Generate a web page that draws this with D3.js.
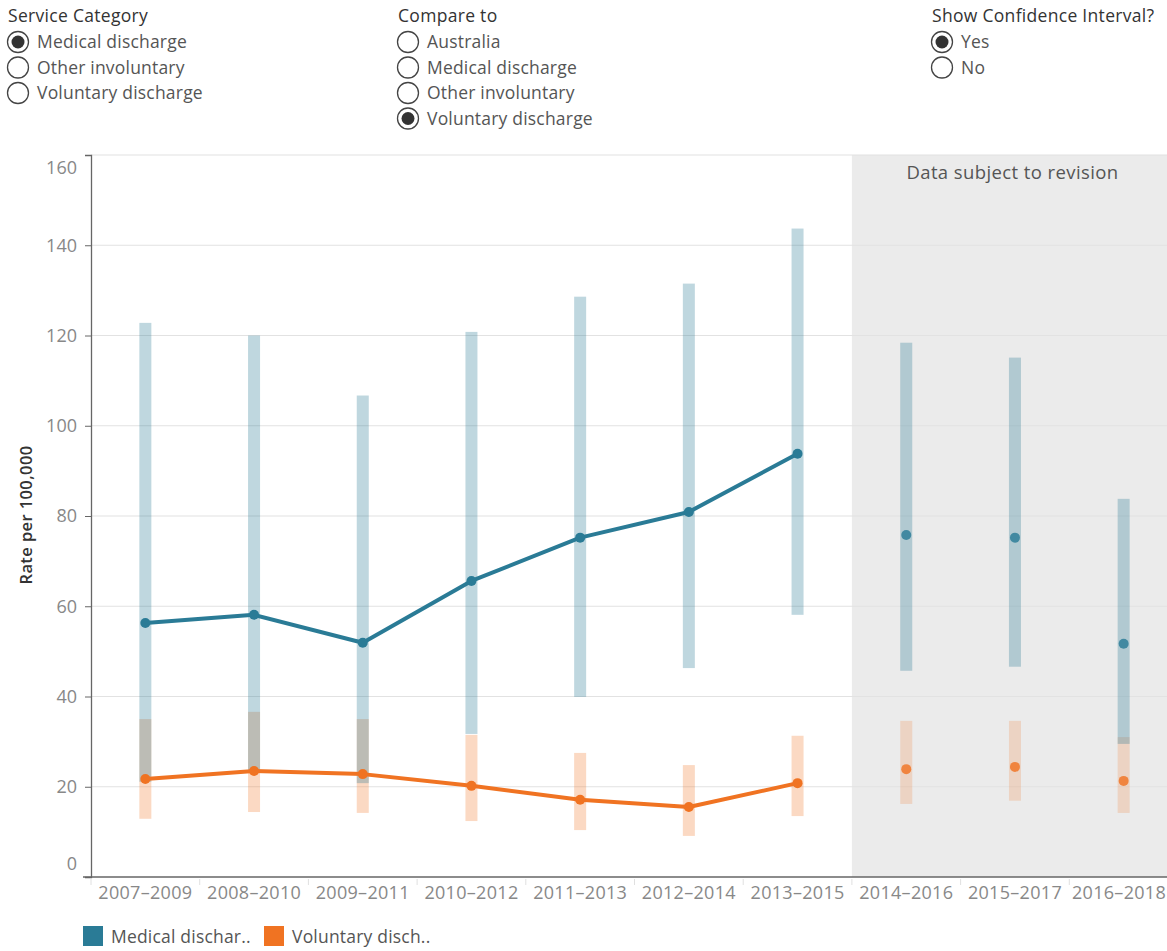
<!DOCTYPE html>
<html>
<head>
<meta charset="utf-8">
<script src="https://cdn.jsdelivr.net/npm/d3@7"></script>
<style>
  body { margin: 0; background: #fff; font-family: "Open Sans", "Noto Sans", sans-serif; }
  svg { display: block; }
</style>
</head>
<body>
<div id="chart"></div>
<script>
// Periods on the x axis
var periods = ["2007–2009", "2008–2010", "2009–2011", "2010–2012", "2011–2013",
               "2012–2014", "2013–2015", "2014–2016", "2015–2017", "2016–2018"];
// First period that is "subject to revision"
var revisionStart = "2014–2016";

// Medical discharge rate and confidence interval
var medicalRate  = [56.3, 58.1, 51.9, 65.6, 75.2, 80.9, 93.8, 75.8, 75.2, 51.7];
var medicalLow   = [21.1, 23.7, 20.8, 31.7, 39.9, 46.3, 58.1, 45.7, 46.6, 29.5];
var medicalHigh  = [122.8, 120.0, 106.7, 120.8, 128.6, 131.5, 143.7, 118.4, 115.1, 83.8];

// Voluntary discharge rate and confidence interval
var voluntaryRate = [21.7, 23.5, 22.8, 20.2, 17.1, 15.5, 20.8, 23.9, 24.4, 21.3];
var voluntaryLow  = [12.9, 14.4, 14.2, 12.4, 10.4, 9.1, 13.5, 16.2, 16.9, 14.2];
var voluntaryHigh = [35.0, 36.6, 35.0, 31.5, 27.5, 24.8, 31.3, 34.6, 34.6, 31.0];

var yTicks = [0, 20, 40, 60, 80, 100, 120, 140, 160];

// Filter controls shown above the chart
var serviceOptions = ["Medical discharge", "Other involuntary", "Voluntary discharge"];
var compareOptions = ["Australia", "Medical discharge", "Other involuntary", "Voluntary discharge"];
var ciOptions = ["Yes", "No"];

var W = 1167, H = 951;
var plot = {left: 91, top: 155, bottom: 877, right: 1178};

var svg = d3.select("#chart").append("svg")
    .attr("width", W).attr("height", H);

// ---- controls ----
function radioGroup(x, title, options, selected) {
  var g = svg.append("g").attr("transform", "translate(" + x + ",0)");
  g.append("text").attr("x", 1).attr("y", 22)
    .attr("font-size", 17.5).attr("letter-spacing", 0.3).attr("fill", "#333").text(title);
  var row = g.selectAll("g.opt").data(options).enter().append("g")
    .attr("class", "opt")
    .attr("transform", function(d, i) { return "translate(0," + (42 + i * 25.5) + ")"; });
  row.append("circle").attr("cx", 11).attr("cy", 0).attr("r", 10.5)
    .attr("fill", "#fff").attr("stroke", "#444").attr("stroke-width", 1.3);
  row.filter(function(d) { return d === selected; }).append("circle")
    .attr("cx", 11).attr("cy", 0).attr("r", 6.5).attr("fill", "#333");
  row.append("text").attr("x", 30).attr("y", 6)
    .attr("font-size", 17.5).attr("letter-spacing", 0.2).attr("fill", "#555")
    .text(function(d) { return d; });
}
radioGroup(7, "Service Category", serviceOptions, "Medical discharge");
radioGroup(397, "Compare to", compareOptions, "Voluntary discharge");
radioGroup(931, "Show Confidence Interval?", ciOptions, "Yes");

// ---- scales ----
var x = d3.scaleBand().domain(periods).range([plot.left, plot.right]);
var y = d3.scaleLinear().domain([0, 160]).range([plot.bottom, plot.top]);

var chart = svg.append("g");

// shaded revision region
chart.append("rect")
  .attr("x", x(revisionStart)).attr("y", plot.top)
  .attr("width", plot.right - x(revisionStart)).attr("height", plot.bottom - plot.top)
  .attr("fill", "#ebebeb");

chart.append("text")
  .attr("x", x(revisionStart) + (W - x(revisionStart)) / 2 + 3).attr("y", 179)
  .attr("text-anchor", "middle").attr("font-size", 18.5).attr("letter-spacing", 0.4)
  .attr("fill", "#555")
  .text("Data subject to revision");

// gridlines
chart.append("g").selectAll("line").data(yTicks.slice(1)).enter().append("line")
  .attr("x1", plot.left).attr("x2", W)
  .attr("y1", function(d) { return y(d); }).attr("y2", function(d) { return y(d); })
  .attr("stroke", "#e2e2e2").attr("stroke-width", 1.2);

// y axis
var yAxis = chart.append("g")
  .attr("transform", "translate(" + plot.left + ",0)")
  .call(d3.axisLeft(y).tickValues(yTicks).tickSize(6).tickPadding(8));
yAxis.select(".domain").attr("stroke", "#666").attr("stroke-width", 1.3);
yAxis.selectAll(".tick line").attr("stroke", "#666");
yAxis.selectAll(".tick").filter(function(d) { return d === 0; }).select("line").remove();
yAxis.selectAll("text").attr("font-size", 18).attr("fill", "#888")
  .attr("font-family", "\"Open Sans\", sans-serif")
  // keep the end labels inside the plot, as the original does
  .attr("dy", function(d) { return d === 0 ? "-0.4em" : d === 160 ? "1.0em" : "0.32em"; });

svg.append("text")
  .attr("transform", "translate(32," + ((plot.top + plot.bottom) / 2 - 1) + ") rotate(-90)")
  .attr("text-anchor", "middle").attr("font-size", 16.5).attr("font-weight", 600)
  .attr("letter-spacing", 0.4).attr("fill", "#333").text("Rate per 100,000");

// x axis
var xAxis = chart.append("g")
  .attr("transform", "translate(0," + plot.bottom + ")")
  .call(d3.axisBottom(x).tickSize(0).tickPadding(9));
xAxis.select(".domain").remove();
xAxis.selectAll("text").attr("font-size", 18).attr("letter-spacing", 0.3).attr("fill", "#888")
  .attr("font-family", "\"Open Sans\", sans-serif");
// last label would run past the window edge: pull it back inside
xAxis.selectAll(".tick").filter(function(d) { return d === periods[periods.length - 1]; })
  .select("text").attr("text-anchor", "end")
  .attr("x", W - 1 - (x(periods[periods.length - 1]) + x.bandwidth() / 2));
chart.append("line")
  .attr("x1", plot.left - 8).attr("x2", W)
  .attr("y1", plot.bottom).attr("y2", plot.bottom)
  .attr("stroke", "#666").attr("stroke-width", 1.5);
chart.append("g").selectAll("line").data(periods).enter().append("line")
  .attr("x1", function(d) { return x(d); }).attr("x2", function(d) { return x(d); })
  .attr("y1", plot.bottom + 2).attr("y2", plot.bottom + 8)
  .attr("stroke", "#e0e0e0");

// ---- series ----
var series = [
  {name: "Medical discharge", color: "#2a7b96", rate: medicalRate, low: medicalLow, high: medicalHigh},
  {name: "Voluntary discharge", color: "#f07322", rate: voluntaryRate, low: voluntaryLow, high: voluntaryHigh}
];
var bw = 12;
var revIdx = periods.indexOf(revisionStart);

// CI bars: voluntary underneath, medical on top
series.slice().reverse().forEach(function(s) {
  chart.append("g").selectAll("rect").data(periods).enter().append("rect")
    .attr("x", function(d) { return x(d) + x.bandwidth() / 2 - bw / 2; })
    .attr("width", bw)
    .attr("y", function(d, i) { return y(s.high[i]); })
    .attr("height", function(d, i) { return y(s.low[i]) - y(s.high[i]); })
    .attr("fill", s.color)
    .attr("fill-opacity", function(d, i) {
      if (s.name === "Voluntary discharge") return i < revIdx ? 0.27 : 0.2;
      return 0.3;
    });
});

series.forEach(function(s) {
  var line = d3.line()
    .x(function(d) { return x(d) + x.bandwidth() / 2; })
    .y(function(d) { return y(s.rate[periods.indexOf(d)]); });
  chart.append("path").datum(periods.slice(0, revIdx))
    .attr("d", line).attr("fill", "none")
    .attr("stroke", s.color).attr("stroke-width", 4).attr("stroke-linejoin", "round");
  chart.append("g").selectAll("circle").data(periods).enter().append("circle")
    .attr("cx", function(d) { return x(d) + x.bandwidth() / 2; })
    .attr("cy", function(d, i) { return y(s.rate[i]); })
    .attr("r", 5)
    .attr("fill", s.color)
    .attr("fill-opacity", function(d, i) { return i < revIdx ? 1 : 0.82; });
});

// ---- legend ----
var legend = svg.append("g").attr("transform", "translate(83,926)");
var legendLabels = ["Medical dischar..", "Voluntary disch.."];
var lg = legend.selectAll("g").data(series).enter().append("g")
  .attr("transform", function(d, i) { return "translate(" + (i * 181) + ",0)"; });
lg.append("rect").attr("width", 20).attr("height", 20)
  .attr("fill", function(d) { return d.color; });
lg.append("text").attr("x", 28).attr("y", 17).attr("font-size", 17.5)
  .attr("letter-spacing", 0.2).attr("fill", "#555")
  .text(function(d, i) { return legendLabels[i]; });
</script>
</body>
</html>
